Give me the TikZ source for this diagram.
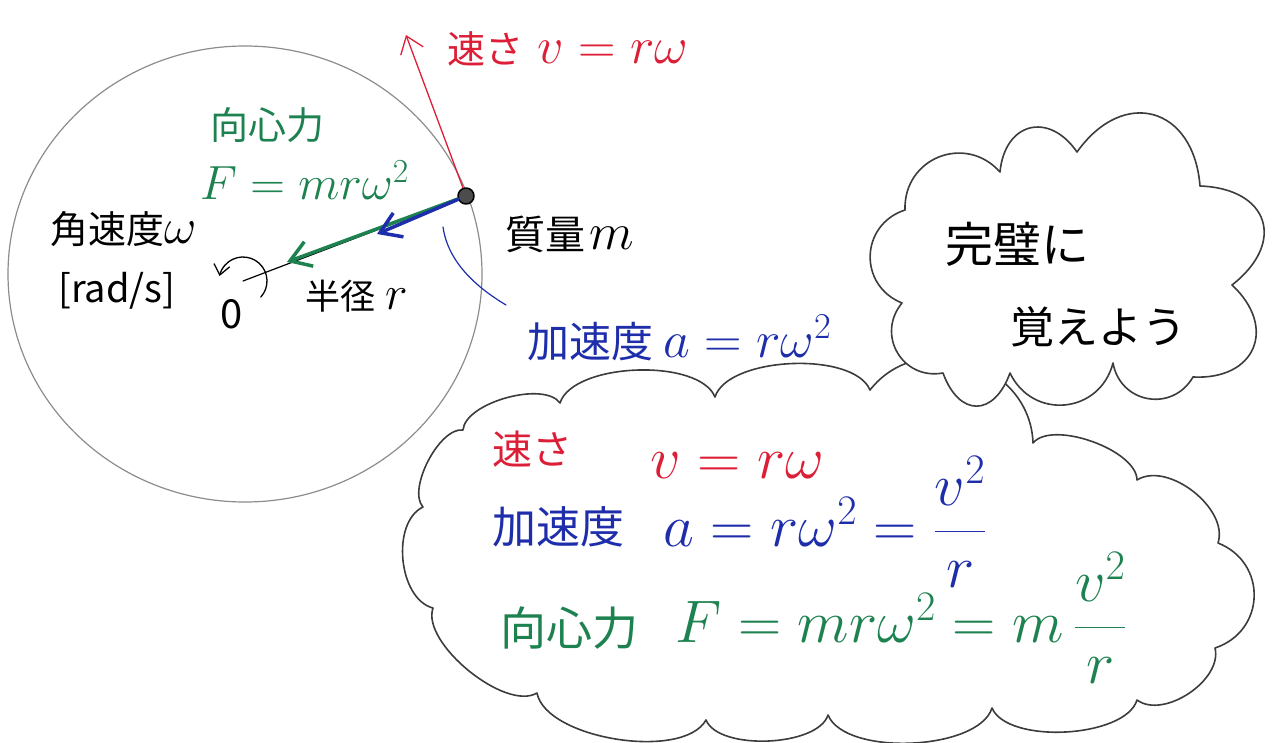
\RequirePackage{fix-cm}
\documentclass[tikz,border=0pt]{standalone}
\usepackage{amsmath}
\usepackage{fontspec}
\setmainfont{Noto Sans CJK JP}
\usetikzlibrary{arrows.meta}
\definecolor{penred}{RGB}{220,30,55}
\definecolor{pengreen}{RGB}{30,130,80}
\definecolor{penblue}{RGB}{30,45,170}
\definecolor{pencilgray}{RGB}{140,140,140}
\definecolor{inkgray}{RGB}{60,60,60}

\begin{document}
\begin{tikzpicture}[x=1pt, y=-1pt, line join=round, line cap=round,
        txt/.style={inner sep=0pt, anchor=base west, font=\fontsize{#1}{#1}\selectfont},
        puff/.style={bend left=70, looseness=0.7},
        cloudline/.style={draw=inkgray, line width=1.6pt},
        massnode/.style={shape=circle, fill=black!70, draw=black, line width=1.5pt, minimum size=16pt, inner sep=0pt},
        thintip/.style={-{Straight Barb[length=16pt, width=24pt]}},
        fattip/.style={-{Straight Barb[length=20pt, width=26pt]}}]
        \useasboundingbox (0,0) rectangle (1285,743);
        % orbit
        \draw[pencilgray, line width=1.2pt] (245,274) ellipse [x radius=237, y radius=228];
        % points
        \coordinate (O) at (243,281);
        \coordinate (vtip) at (406,35);
        \coordinate (Ftip) at (287,262);
        \coordinate (atip) at (377,234);
        \coordinate (astart) at (443,227);
        \coordinate (aend) at (506,305);
        \node[massnode] (mass) at (466,196) {};
        % radius and vectors
        \draw[line width=1.2pt] (mass) -- (O);
        \draw[penred, line width=1.3pt, thintip] (mass) -- (vtip);
        \draw[pengreen, line width=3.5pt, fattip] (mass) -- (Ftip);
        \draw[penblue, line width=3.5pt, fattip] (mass) -- (atip);
        \draw[penblue, line width=1.2pt] (astart) .. controls (448,262) and (476,287) .. (aend);
        % rotation
        \draw[line width=1.3pt, -{Straight Barb[length=10pt, width=16pt]}] ([shift={(42:24)}]O) arc[start angle=42, end angle=-168, radius=24];
        % labels round the orbit
        \node[txt=52, penred] (speed) at (447,64) {{\fontsize{38}{38}\selectfont 速さ}\hspace{14pt}$v=r\omega$};
        \node[txt=38, pengreen] (cforce) at (210,140) {向心力};
        \node[txt=48, pengreen] (cforceeq) at (200,200) {$F=mr\omega^2$};
        \node[txt=38] (angvel) at (50,244) {角速度{\fontsize{50}{50}\selectfont$\omega$}};
        \node[txt=38] (unit) at (58,302) {[rad/s]};
        \node[txt=40, anchor=base] (origin) at (232,328) {0};
        \node[txt=35] (radius) at (305,310) {半径\hspace{10pt}{\fontsize{48}{48}\selectfont$r$}};
        \node[txt=40] (massname) at (505,250) {質量\hspace{4pt}{\fontsize{52}{52}\selectfont$m$}};
        \node[txt=52, penblue] (alabel) at (527,357) {{\fontsize{42}{42}\selectfont 加速度}\hspace{10pt}$a=r\omega^2$};
        % lower cloud
        \draw[cloudline] (463,430) to[puff] (560,403) to[puff] (715,397) to[puff] (870,390)
                to[puff, looseness=1.2] (1033,443) to[puff] (1137,480) to[puff, looseness=0.9] (1218,543) to[puff, looseness=1.3] (1215,648)
                to[puff, looseness=0.9] (1137,700) to[puff] (992,708) to[puff] (828,715) to[puff] (706,720)
                to[puff] (537,693) to[puff] (433,608) to[puff, looseness=0.9] (423,507) to[puff] (463,430) -- cycle;
        % upper cloud
        \draw[cloudline, fill=white] (905,210) to[puff, looseness=1.3] (1000,172) to[puff, looseness=1.6] (1077,152)
                to[puff, looseness=1.6] (1200,186) to[puff, looseness=1.7] (1232,285) to[puff, looseness=1.6] (1193,377)
                to[puff, looseness=1.3] (1113,363) to[puff, looseness=1.3] (1010,373) to[puff, looseness=1.8] (943,373)
                to[puff, looseness=1.3] (902,303) to[puff, looseness=1.3] (905,210) -- cycle;
        \node[txt=48] (memo1) at (945,263) {完璧に};
        \node[txt=44] (memo2) at (1010,343) {覚えよう};
        % summary
        \node[txt=40, penred] (sumv) at (492,464) {速さ};
        \node[txt=60, penred] (sumveq) at (650,478) {$v=r\omega$};
        \node[txt=44, penblue] (suma) at (492,543) {加速度};
        \node[txt=60, penblue] (sumaeq) at (663,546) {$a=r\omega^2=\dfrac{v^2}{r}$};
        \node[txt=46, pengreen] (sumF) at (500,645) {向心力};
        \node[txt=60, pengreen] (sumFeq) at (675,642) {$F=mr\omega^2=m\,\dfrac{v^2}{r}$};
\end{tikzpicture}
\end{document}
